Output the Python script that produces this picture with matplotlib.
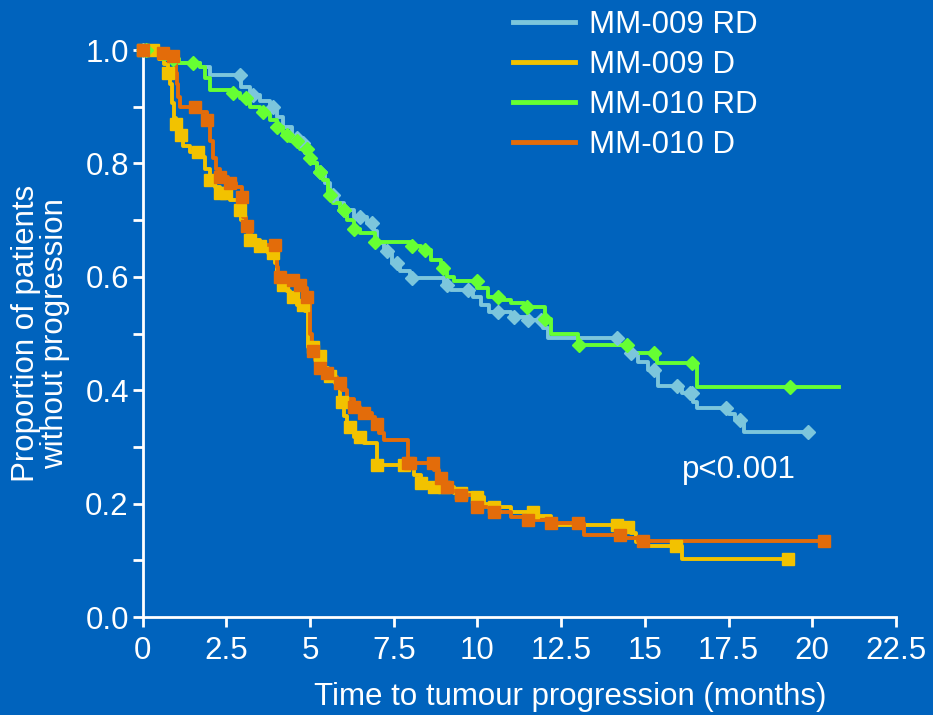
import numpy as np
import matplotlib
matplotlib.use("Agg")
import matplotlib.pyplot as plt
from matplotlib.lines import Line2D

plt.rcParams['font.family'] = ['Liberation Sans', 'DejaVu Sans']

# ---- Kaplan-Meier step data (time in months, proportion without progression) ----
mm009_rd_t = [0, 0.3, 0.8, 1.1, 1.7, 2.0, 2.93, 3.2, 3.5, 3.8, 4.0, 4.2, 4.45, 4.75, 4.85,
              5.0, 5.2, 5.45, 5.6, 5.8, 6.0, 6.3, 6.7, 6.9, 7.0, 7.2, 7.45, 7.7, 8.0, 9.0,
              9.2, 9.87, 10.1, 10.35, 11.0, 11.5, 11.95, 12.1, 14.2, 14.5, 14.8, 15.1,
              15.38, 16.1, 16.45, 16.57, 17.5, 17.7, 17.95]
mm009_rd_s = [1.0, 0.995, 0.985, 0.977, 0.97, 0.956, 0.935, 0.92, 0.91, 0.90, 0.882, 0.864,
              0.845, 0.836, 0.818, 0.80, 0.785, 0.765, 0.745, 0.73, 0.718, 0.705, 0.695,
              0.68, 0.66, 0.645, 0.624, 0.61, 0.598, 0.585, 0.577, 0.564, 0.55, 0.538,
              0.53, 0.524, 0.51, 0.492, 0.48, 0.466, 0.45, 0.435, 0.407, 0.395, 0.38,
              0.369, 0.358, 0.347, 0.326]
mm009_rd_end = 19.86
mm009_rd_cens = [0, 2.9, 3.3, 3.9, 4.6, 4.8, 5.3, 5.7, 6.0, 6.5, 6.86, 7.3, 7.6, 8.05,
                 9.1, 9.73, 10.6, 11.1, 11.5, 11.9, 14.18, 14.6, 15.26, 15.95, 16.36,
                 16.42, 17.41, 17.83, 19.86]

mm009_d_t = [0, 0.5, 0.65, 0.75, 0.82, 0.88, 0.95, 1.0, 1.1, 1.2, 1.4, 1.7, 1.85, 2.0, 2.15,
             2.3, 2.6, 2.85, 2.95, 3.05, 3.2, 3.5, 3.75, 3.95, 4.0, 4.1, 4.3, 4.4, 4.6,
             4.85, 4.95, 5.2, 5.4, 5.55, 5.75, 5.9, 6.0, 6.1, 6.3, 6.6, 7.0, 7.9, 8.1,
             8.3, 8.7, 9.3, 9.87, 10.2, 10.5, 11.0, 11.7, 12.2, 14.4, 14.6, 14.75, 14.85,
             16.12]
mm009_d_s = [1.0, 0.985, 0.975, 0.96, 0.94, 0.906, 0.88, 0.87, 0.85, 0.83, 0.82, 0.811,
             0.79, 0.77, 0.758, 0.748, 0.735, 0.718, 0.70, 0.68, 0.665, 0.655, 0.642,
             0.625, 0.60, 0.585, 0.575, 0.564, 0.55, 0.54, 0.476, 0.46, 0.44, 0.425,
             0.413, 0.38, 0.355, 0.335, 0.317, 0.307, 0.268, 0.265, 0.25, 0.236, 0.229,
             0.219, 0.212, 0.20, 0.194, 0.185, 0.178, 0.162, 0.159, 0.148, 0.132, 0.125,
             0.102]
mm009_d_end = 19.27
mm009_d_cens = [0, 0.3, 0.75, 1.0, 1.15, 1.65, 2.0, 2.3, 2.5, 2.9, 3.2, 3.5, 3.9, 4.2,
                4.5, 4.79, 5.1, 5.3, 5.6, 5.95, 6.2, 6.5, 7.0, 7.8, 8.3, 8.7, 9.0, 9.5,
                10.0, 10.5, 11.67, 14.18, 14.5, 15.92, 19.27]

mm010_rd_t = [0, 0.2, 0.6, 1.1, 1.7, 1.85, 2.0, 2.7, 2.9, 3.2, 3.5, 3.8, 4.0, 4.2, 4.4,
              4.7, 4.95, 5.05, 5.2, 5.4, 5.55, 5.7, 5.9, 6.1, 6.3, 6.5, 6.95, 8.05, 8.3,
              8.6, 8.9, 9.1, 9.3, 10.0, 10.3, 10.7, 11.0, 11.4, 12.03, 12.2, 13.0, 14.5,
              15.35, 16.57]
mm010_rd_s = [1.0, 0.995, 0.985, 0.978, 0.97, 0.95, 0.929, 0.924, 0.915, 0.90, 0.89,
              0.877, 0.865, 0.85, 0.84, 0.825, 0.81, 0.80, 0.785, 0.77, 0.745, 0.73,
              0.718, 0.70, 0.685, 0.677, 0.661, 0.655, 0.647, 0.63, 0.615, 0.60, 0.593,
              0.58, 0.565, 0.56, 0.554, 0.547, 0.525, 0.50, 0.48, 0.466, 0.448, 0.406]
mm010_rd_end = 20.79
mm010_rd_cens = [0.1, 0.9, 1.5, 2.7, 3.1, 3.6, 4.0, 4.3, 4.6, 4.9, 5.0, 5.3, 5.6, 6.0,
                 6.3, 6.95, 8.05, 8.44, 8.98, 9.99, 10.62, 11.49, 12.03, 13.02, 14.48,
                 15.26, 16.42, 19.35]

mm010_d_t = [0, 0.3, 0.75, 1.0, 1.03, 1.07, 1.12, 1.6, 1.92, 2.0, 2.1, 2.2, 2.3, 2.55,
             2.8, 2.97, 3.0, 3.08, 3.15, 3.25, 3.3, 4.0, 4.05, 4.19, 4.55, 4.75, 4.9,
             5.0, 5.05, 5.15, 5.25, 5.4, 5.55, 5.8, 5.95, 6.1, 6.3, 6.5, 6.85, 6.95,
             7.05, 7.2, 7.93, 8.7, 8.85, 9.0, 9.2, 9.5, 9.9, 10.0, 10.5, 11.0, 11.5,
             12.1, 13.17, 14.4, 14.8]
mm010_d_s = [1.0, 0.995, 0.99, 0.96, 0.94, 0.917, 0.90, 0.89, 0.877, 0.84, 0.81, 0.79,
             0.776, 0.765, 0.758, 0.741, 0.705, 0.69, 0.675, 0.66, 0.656, 0.617, 0.60,
             0.594, 0.586, 0.58, 0.564, 0.50, 0.47, 0.453, 0.44, 0.43, 0.423, 0.413,
             0.40, 0.385, 0.37, 0.36, 0.353, 0.34, 0.325, 0.312, 0.272, 0.26, 0.245,
             0.23, 0.222, 0.215, 0.21, 0.194, 0.185, 0.176, 0.172, 0.166, 0.145, 0.14,
             0.134]
mm010_d_end = 20.34
mm010_d_cens = [0, 0.6, 0.9, 1.55, 1.92, 2.3, 2.6, 2.97, 3.12, 3.96, 4.1, 4.49, 4.7,
                4.91, 5.1, 5.3, 5.5, 5.9, 6.3, 6.6, 7.0, 7.93, 8.0, 8.68, 8.9, 9.1, 9.5,
                10.0, 10.5, 11.5, 12.2, 12.99, 14.27, 14.93, 20.34]

x_ticks = [0, 2.5, 5, 7.5, 10, 12.5, 15, 17.5, 20, 22.5]
x_tick_labels = ['0', '2.5', '5', '7.5', '10', '12.5', '15', '17.5', '20', '22.5']
y_ticks = [0.0, 0.2, 0.4, 0.6, 0.8, 1.0]
y_tick_labels = ['0.0', '0.2', '0.4', '0.6', '0.8', '1.0']

BG = '#0063BD'
FS = 22.5
series = [
    ('MM-009 RD', mm009_rd_t, mm009_rd_s, mm009_rd_end, mm009_rd_cens, '#7CC6DC', 'D', 7.5),
    ('MM-009 D', mm009_d_t, mm009_d_s, mm009_d_end, mm009_d_cens, '#F2C200', 's', 9),
    ('MM-010 RD', mm010_rd_t, mm010_rd_s, mm010_rd_end, mm010_rd_cens, '#66FF33', 'D', 7.5),
    ('MM-010 D', mm010_d_t, mm010_d_s, mm010_d_end, mm010_d_cens, '#E36C0A', 's', 9),
]


def value_at(times, values, t):
    idx = np.searchsorted(np.asarray(times), t, side='right') - 1
    return np.asarray(values)[np.clip(idx, 0, None)]


fig = plt.figure(figsize=(9.33, 7.15), dpi=100, facecolor=BG)
ax = fig.add_axes([0.1529, 0.137, 0.8074, 0.793])
ax.set_facecolor(BG)

handles = []
for label, t, s, end, cens, color, marker, ms in series:
    tt = np.r_[t, end]
    ss = np.r_[s, s[-1]]
    ax.step(tt, ss, where='post', color=color, lw=2.8, clip_on=False, zorder=3)
    ct = np.asarray(cens)
    ax.plot(ct, value_at(t, s, ct), linestyle='none', marker=marker, ms=ms,
            mfc=color, mec=color, clip_on=False, zorder=4)
    handles.append(Line2D([0], [0], color=color, lw=3.5))

ax.set_xlim(0, 22.5)
ax.set_ylim(0, 1.0)
ax.set_xticks(x_ticks)
ax.set_xticklabels(x_tick_labels)
ax.set_yticks(y_ticks)
ax.set_yticklabels(y_tick_labels)
ax.set_yticks(np.arange(0.1, 1.0, 0.2), minor=True)

for side in ('top', 'right'):
    ax.spines[side].set_visible(False)
for side in ('left', 'bottom'):
    ax.spines[side].set_color('white')
    ax.spines[side].set_linewidth(2)

ax.tick_params(axis='both', which='both', colors='white', direction='out',
               length=7, width=2, labelsize=FS)
ax.tick_params(axis='y', pad=3)
ax.tick_params(axis='x', pad=7)

ax.set_xlabel('Time to tumour progression (months)', color='white', fontsize=FS)
ax.xaxis.set_label_coords(0.567, -0.115)
ax.set_ylabel('Proportion of patients\nwithout progression', color='white',
              fontsize=FS, linespacing=0.95)
ax.yaxis.set_label_coords(-0.097, 0.50)

ax.text(17.8, 0.26, 'p<0.001', color='white', fontsize=FS, ha='center', va='center')

leg = fig.legend(handles, [h[0] for h in series], loc='upper left',
                 bbox_to_anchor=(491 / 933, 1 + 12 / 715), frameon=False,
                 fontsize=FS, handlelength=2.0, handletextpad=0.45,
                 labelspacing=0.32, borderpad=0.2)
for txt in leg.get_texts():
    txt.set_color('white')

fig.savefig('out.png', dpi=100, facecolor=BG)
